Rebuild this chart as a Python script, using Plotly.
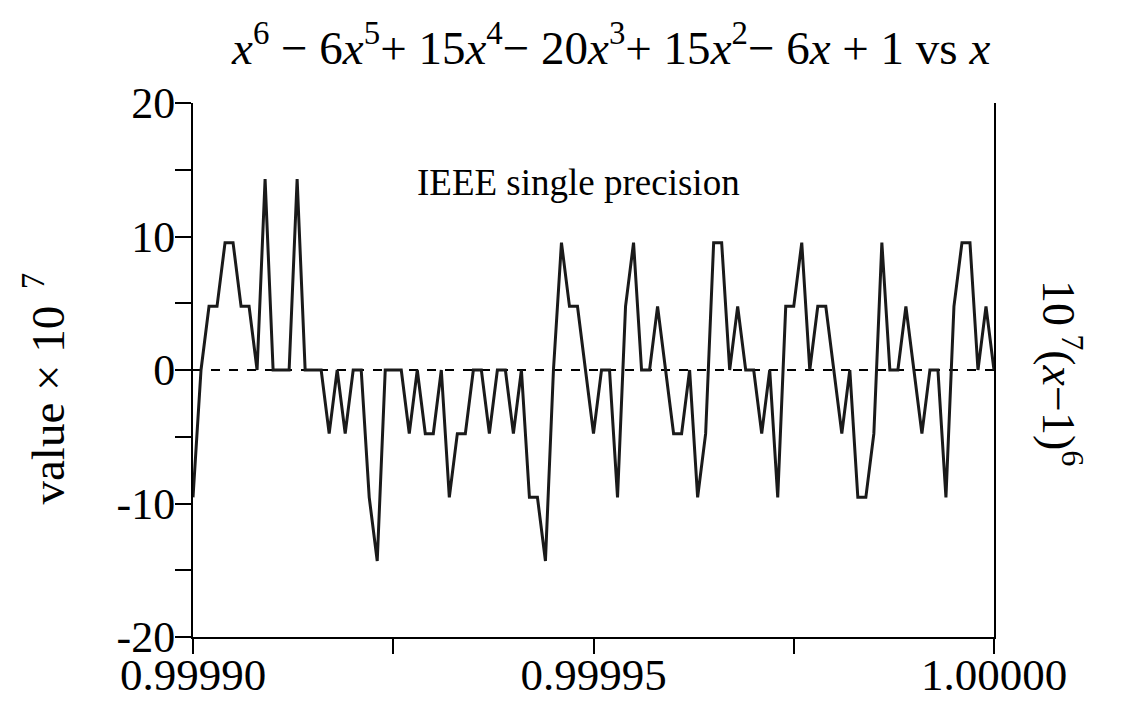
import plotly.graph_objects as go

# x samples (101 points, 0.99990 .. 1.00000)
x_vals = [
    0.999900, 0.999901, 0.999902, 0.999903, 0.999904, 0.999905, 0.999906, 0.999907, 0.999908, 0.999909,
    0.999910, 0.999911, 0.999912, 0.999913, 0.999914, 0.999915, 0.999916, 0.999917, 0.999918, 0.999919,
    0.999920, 0.999921, 0.999922, 0.999923, 0.999924, 0.999925, 0.999926, 0.999927, 0.999928, 0.999929,
    0.999930, 0.999931, 0.999932, 0.999933, 0.999934, 0.999935, 0.999936, 0.999937, 0.999938, 0.999939,
    0.999940, 0.999941, 0.999942, 0.999943, 0.999944, 0.999945, 0.999946, 0.999947, 0.999948, 0.999949,
    0.999950, 0.999951, 0.999952, 0.999953, 0.999954, 0.999955, 0.999956, 0.999957, 0.999958, 0.999959,
    0.999960, 0.999961, 0.999962, 0.999963, 0.999964, 0.999965, 0.999966, 0.999967, 0.999968, 0.999969,
    0.999970, 0.999971, 0.999972, 0.999973, 0.999974, 0.999975, 0.999976, 0.999977, 0.999978, 0.999979,
    0.999980, 0.999981, 0.999982, 0.999983, 0.999984, 0.999985, 0.999986, 0.999987, 0.999988, 0.999989,
    0.999990, 0.999991, 0.999992, 0.999993, 0.999994, 0.999995, 0.999996, 0.999997, 0.999998, 0.999999,
    1.000000,
]

# single-precision polynomial value x 1e7
y_single = [
    -9.54, 0, 4.77, 4.77, 9.54, 9.54, 4.77, 4.77, 0, 14.31,
    0, 0, 0, 14.31, 0, 0, 0, -4.77, 0, -4.77,
    0, 0, -9.54, -14.31, 0, 0, 0, -4.77, 0, -4.77,
    -4.77, 0, -9.54, -4.77, -4.77, 0, 0, -4.77, 0, 0,
    -4.77, 0, -9.54, -9.54, -14.31, 0, 9.54, 4.77, 4.77, 0,
    -4.77, 0, 0, -9.54, 4.77, 9.54, 0, 0, 4.77, 0,
    -4.77, -4.77, 0, -9.54, -4.77, 9.54, 9.54, 0, 4.77, 0,
    0, -4.77, 0, -9.54, 4.77, 4.77, 9.54, 0, 4.77, 4.77,
    0, -4.77, 0, -9.54, -9.54, -4.77, 9.54, 0, 0, 4.77,
    0, -4.77, 0, 0, -9.54, 4.77, 9.54, 9.54, 0, 4.77,
    0,
]

# exact curve 1e7*(x-1)^6 (essentially zero at this scale)
x_exact = [0.99990, 1.00000]
y_exact = [0.0, 0.0]

y_tickvals = [-20, -10, 0, 10, 20]
y_ticktext = ["-20", "-10", "0", "10", "20"]
y_minor = [-15, -5, 5, 15]
x_tickvals = [0.99990, 0.99995, 1.00000]
x_ticktext = ["0.99990", "0.99995", "1.00000"]
x_minor = [0.999925, 0.999975]

FONT = "Liberation Serif"

fig = go.Figure()
fig.add_trace(go.Scatter(x=x_exact, y=y_exact, mode="lines",
                         line=dict(color="black", width=2, dash="dash"),
                         showlegend=False, hoverinfo="skip"))
fig.add_trace(go.Scatter(x=x_vals, y=y_single, mode="lines",
                         line=dict(color="#1a1a1a", width=3),
                         showlegend=False))

tick_style = dict(ticks="outside", tickwidth=2, tickcolor="black", showgrid=False)

fig.update_layout(
    template="none",
    width=1116, height=693,
    margin=dict(l=185, r=130, t=95, b=64, autoexpand=False),
    paper_bgcolor="white", plot_bgcolor="white",
    font=dict(family=FONT, color="black", size=40),
    xaxis=dict(range=[0.99990, 1.00000], tickmode="array", tickvals=x_tickvals, ticktext=x_ticktext,
               ticklen=15, automargin=False, ticklabelstandoff=-18,
               minor=dict(tickmode="array", tickvals=x_minor, ticklen=15, **tick_style),
               showline=True, linecolor="black", linewidth=2,
               zeroline=False, tickfont=dict(size=45, family=FONT), **tick_style),
    yaxis=dict(range=[-20, 20], tickmode="array", tickvals=y_tickvals, ticktext=y_ticktext,
               ticklen=16, automargin=False, ticklabelstandoff=-9,
               minor=dict(tickmode="array", tickvals=y_minor, ticklen=16, **tick_style),
               showline=True, linecolor="black", linewidth=2, mirror=True,
               zeroline=False, tickfont=dict(size=44, family=FONT), **tick_style),
    annotations=[
        dict(text="<i>x</i><sup>6</sup> − 6<i>x</i><sup>5</sup>+ 15<i>x</i><sup>4</sup>− 20<i>x</i><sup>3</sup>+ 15<i>x</i><sup>2</sup>− 6<i>x</i> + 1 vs <i>x</i>",
             xref="paper", yref="paper", x=0.521, y=1.11, xanchor="center", yanchor="middle",
             showarrow=False, font=dict(size=47, family=FONT)),
        dict(text="IEEE single precision", xref="paper", yref="paper", x=0.481, y=0.852,
             xanchor="center", yanchor="middle", showarrow=False, font=dict(size=37, family=FONT)),
        dict(text="value × 10<sup>  7</sup>", xref="paper", yref="paper", x=-0.185, y=0.465,
             xanchor="center", yanchor="middle", textangle=-90, showarrow=False,
             font=dict(size=47, family=FONT)),
        dict(text="10<sup> 7</sup>(<i>x</i>−1)<sup>6</sup>", xref="paper", yref="paper", x=1.085, y=0.494,
             xanchor="center", yanchor="middle", textangle=90, showarrow=False,
             font=dict(size=46, family=FONT)),
    ],
)

fig.write_html("out.html")
